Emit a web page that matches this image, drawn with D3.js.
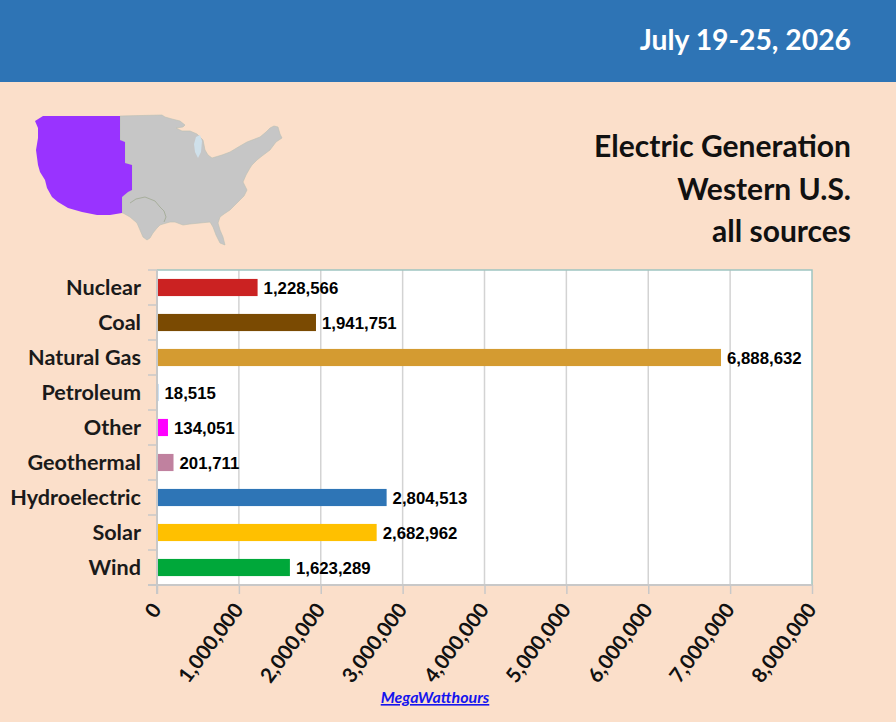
<!DOCTYPE html>
<html>
<head>
<meta charset="utf-8">
<script src="https://cdn.jsdelivr.net/npm/d3@7"></script>
<style>
  html,body{margin:0;padding:0;background:#FBDFCA;}
  svg{display:block;}
</style>
</head>
<body>
<svg id="chart" width="896" height="722"></svg>
<script>
// ---- data ----
const categories = ["Nuclear","Coal","Natural Gas","Petroleum","Other","Geothermal","Hydroelectric","Solar","Wind"];
const values = [1228566,1941751,6888632,18515,134051,201711,2804513,2682962,1623289];
const barColors = ["#CB2222","#7A4A02","#D49B31","#9DC3E6","#FF00FF","#C0819F","#2E75B6","#FFC000","#00A83A"];
const xTicks = [0,1000000,2000000,3000000,4000000,5000000,6000000,7000000,8000000];
const dateLabel = "July 19-25, 2026";
const titleLines = ["Electric Generation","Western U.S.","all sources"];
const unitLabel = "MegaWatthours";

const FONT = "Lato, 'Open Sans', sans-serif";
const svg = d3.select("#chart");
const W = 896, H = 722;

svg.append("rect").attr("width",W).attr("height",H).attr("fill","#FBDFCA");
// header band
svg.append("rect").attr("x",0).attr("y",0).attr("width",W).attr("height",82).attr("fill","#2E74B5");
svg.append("text").attr("x",851).attr("y",50).attr("text-anchor","end")
  .attr("font-family",FONT).attr("font-weight",700).attr("font-size",28.3).attr("fill","#fff")
  .text(dateLabel);

// title
titleLines.forEach((t,i)=>{
  svg.append("text").attr("x",851).attr("y",157+i*42.5).attr("text-anchor","end")
    .attr("font-family",FONT).attr("font-weight",700).attr("font-size",30).attr("fill","#111")
    .text(t);
});

// ---- decorative map (approximate outline) ----
const mapG = svg.append("g");
const line = d3.line().curve(d3.curveLinearClosed);
const westShape = [[43,116],[120,116],[120,140],[125,142],[125,163],[132,165],[132,190],[128,192],[122,197],[122,213],
  [110,215],[97,215],[82,212],[68,208],[58,202],[52,197],[47,188],[45,180],[40,172],[38,165],[36,150],[38,138],[38,128],[35,121]];
const eastShape = [[120,116],[162,115],[165,117],[172,119],[180,121],[185,125],[183,127],[176,128],[182,131],[190,131],[197,134],[203,140],[205,150],[208,155],[212,158],
  [222,155],[230,152],[240,146],[247,142],[260,137],[266,132],[270,128],[274,126],[278,127],[280,134],[282,138],[276,142],[270,150],[262,156],[257,160],
  [252,165],[250,168],[246,175],[243,182],[245,186],[247,190],[244,196],[240,200],[235,205],[230,210],[224,214],[220,217],[218,223],[220,230],
  [223,237],[225,245],[220,243],[216,235],[213,227],[210,222],[200,223],[190,224],[183,225],[175,222],[170,222],[163,224],[160,225],
  [157,228],[153,233],[150,238],[147,240],[143,237],[140,230],[137,223],[130,217],[123,213],[122,213],[122,197],[128,192],[132,190],
  [132,165],[125,163],[125,142],[120,140]];
mapG.append("path").attr("d",line(eastShape)).attr("fill","#C6C6C6").attr("stroke","#BBBFB4").attr("stroke-width",0.6);
mapG.append("path").attr("d",line(westShape)).attr("fill","#9933FF");
// lakes
mapG.append("path").attr("d",line([[196,137],[200,135],[202,141],[201,152],[198,158],[195,152],[194,144]])).attr("fill","#CFE0EA");
// Texas border hint
mapG.append("path").attr("d",d3.line()([[130,203],[136,199],[145,197],[155,201],[160,207],[164,211],[166,217],[164,222]]))
  .attr("fill","none").attr("stroke","#9AA48A").attr("stroke-width",0.7);

// ---- chart ----
const plot = {x0:157, x1:812, y0:270, y1:585};
const x = d3.scaleLinear().domain([0,8000000]).range([plot.x0, plot.x1]);
const y = d3.scaleBand().domain(categories).range([plot.y0, plot.y1]).paddingInner(0.51).paddingOuter(0.255);

svg.append("rect").attr("x",plot.x0).attr("y",plot.y0).attr("width",plot.x1-plot.x0).attr("height",plot.y1-plot.y0).attr("fill","#fff");

// gridlines
svg.append("g").selectAll("line").data(xTicks.slice(1,-1)).join("line")
  .attr("x1",d=>x(d)).attr("x2",d=>x(d)).attr("y1",plot.y0).attr("y2",plot.y1)
  .attr("stroke","#D3D3D3").attr("stroke-width",1.5);

// frame top/right
svg.append("path").attr("d",`M${plot.x0},${plot.y0}H${plot.x1}V${plot.y1}`).attr("fill","none").attr("stroke","#9EC5C1").attr("stroke-width",1.5);

// bars
svg.append("g").selectAll("rect").data(categories).join("rect")
  .attr("x",x(0)).attr("y",d=>y(d)).attr("width",(d,i)=>x(values[i])-x(0)).attr("height",y.bandwidth())
  .attr("fill",(d,i)=>barColors[i]);

// value labels
svg.append("g").selectAll("text").data(categories).join("text")
  .attr("x",(d,i)=>x(values[i])+6).attr("y",d=>y(d)+y.bandwidth()/2).attr("dy","0.36em")
  .attr("font-family","'Liberation Sans', Arial, sans-serif").attr("font-weight",700).attr("font-size",16.8).attr("fill","#000")
  .text((d,i)=>d3.format(",")(values[i]));

// x axis
const xAxis = d3.axisBottom(x).tickValues(xTicks).tickSize(9).tickFormat(d3.format(","));
const gx = svg.append("g").attr("transform",`translate(0,${plot.y1})`).call(xAxis);
gx.select(".domain").attr("stroke","#C8C8C8").attr("stroke-width",2).attr("d",`M${plot.x0-9},0H${plot.x1}`);
gx.selectAll(".tick line").attr("stroke","#C8C8C8").attr("stroke-width",1.5);
gx.selectAll(".tick text")
  .attr("font-family",FONT).attr("font-weight",700).attr("font-size",20.5).attr("fill","#111")
  .attr("text-anchor","end").attr("dy",0).attr("y",0)
  .attr("transform","translate(5,25) rotate(-53)");

// y axis
const yBounds = d3.range(categories.length+1).map(i=>plot.y0 + i*(plot.y1-plot.y0)/categories.length);
svg.append("line").attr("x1",plot.x0).attr("x2",plot.x0).attr("y1",plot.y0).attr("y2",plot.y1+9)
  .attr("stroke","#C8C8C8").attr("stroke-width",2);
svg.append("g").selectAll("line").data(yBounds).join("line")
  .attr("x1",plot.x0-9).attr("x2",plot.x0).attr("y1",d=>d).attr("y2",d=>d)
  .attr("stroke","#C8C8C8").attr("stroke-width",1.5);
svg.append("g").selectAll("text").data(categories).join("text")
  .attr("x",141).attr("y",d=>y(d)+y.bandwidth()/2).attr("dy","0.34em").attr("text-anchor","end")
  .attr("font-family",FONT).attr("font-weight",700).attr("font-size",21.6).attr("fill","#1a1a1a")
  .text(d=>d);

// unit label
svg.append("text").attr("x",435).attr("y",703).attr("text-anchor","middle")
  .attr("font-family",FONT).attr("font-weight",700).attr("font-style","italic").attr("font-size",16)
  .attr("fill","#1515EE").attr("text-decoration","underline")
  .text(unitLabel);
</script>
</body>
</html>
